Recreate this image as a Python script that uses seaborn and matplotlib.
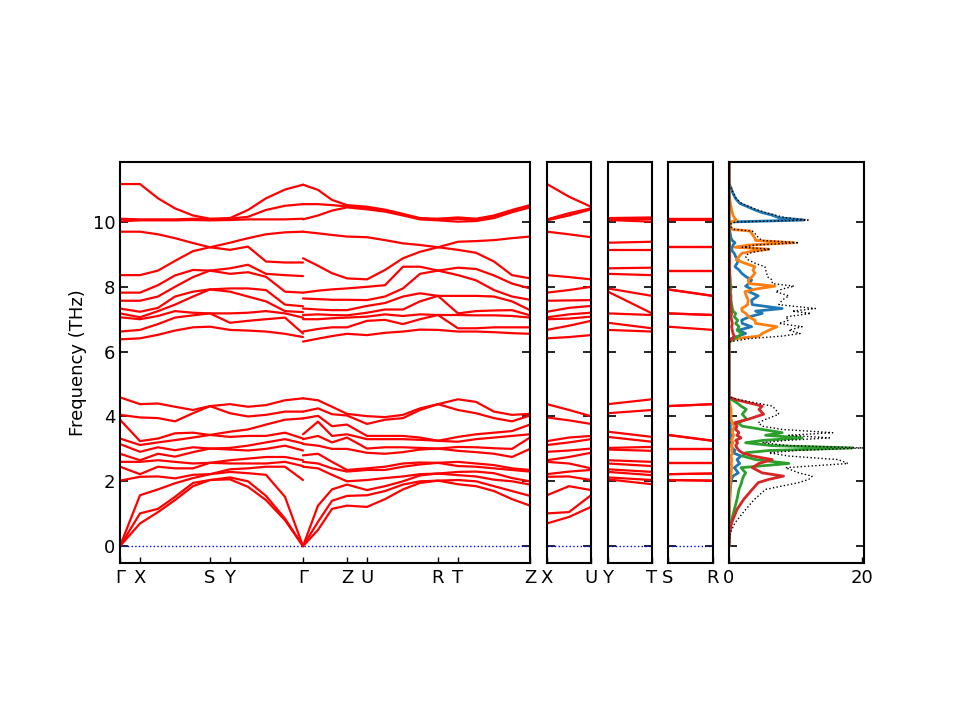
import numpy as np
import pandas as pd
import matplotlib
matplotlib.use("Agg")
import matplotlib.pyplot as plt
import seaborn as sns

# ---------------- band data: frequencies (THz) read at sample columns ----------------
# each column: 12 upper-group values followed by 12 lower-group values
col_G0 = [11.17, 10.10, 10.02, 9.70, 8.36, 7.82, 7.57, 7.33, 7.18, 7.06, 6.62, 6.38,
          4.59, 4.05, 3.90, 3.32, 3.15, 2.85, 2.60, 2.45, 2.02, 0.0, 0.0, 0.0]
col_X = [11.17, 10.08, 10.05, 9.70, 8.36, 7.82, 7.57, 7.23, 7.06, 7.00, 6.67, 6.41,
         4.38, 3.97, 3.24, 3.12, 2.91, 2.65, 2.60, 2.22, 2.14, 1.57, 1.01, 0.70]
col_XS1 = [10.73, 10.08, 10.05, 9.62, 8.50, 8.05, 7.70, 7.35, 7.25, 7.10, 6.85, 6.52,
           4.40, 3.95, 3.32, 3.20, 3.05, 2.85, 2.65, 2.45, 2.15, 1.75, 1.15, 1.05]
col_XS2 = [10.42, 10.08, 10.05, 9.50, 8.80, 8.35, 8.00, 7.70, 7.45, 7.25, 7.05, 6.65,
           4.30, 3.85, 3.48, 3.27, 2.96, 2.76, 2.60, 2.40, 2.09, 1.94, 1.52, 1.42]
col_XS3 = [10.20, 10.10, 10.06, 9.35, 9.10, 8.52, 8.30, 7.85, 7.70, 7.20, 7.12, 6.75,
           4.20, 4.10, 3.50, 3.35, 3.05, 2.90, 2.55, 2.40, 2.20, 2.10, 1.95, 1.85]
col_S = [10.10, 10.08, 10.05, 9.22, 9.22, 8.50, 8.50, 7.92, 7.92, 7.18, 7.18, 6.77,
         4.32, 4.32, 3.43, 3.43, 3.01, 3.01, 2.57, 2.57, 2.22, 2.22, 2.04, 2.04]
col_Y = [10.12, 10.10, 10.06, 9.36, 9.14, 8.57, 8.40, 7.95, 7.85, 7.18, 6.89, 6.67,
         4.38, 4.10, 3.53, 3.37, 3.03, 2.98, 2.65, 2.55, 2.37, 2.29, 2.12, 2.06]
col_YG1 = [10.37, 10.16, 10.08, 9.50, 9.24, 8.68, 8.45, 7.95, 7.70, 7.20, 6.95, 6.65,
           4.30, 4.00, 3.60, 3.40, 3.10, 2.95, 2.70, 2.55, 2.40, 2.25, 2.00, 1.83]
col_YG2 = [10.73, 10.37, 10.08, 9.62, 8.78, 8.40, 8.31, 7.90, 7.55, 7.25, 7.00, 6.62,
           4.35, 4.05, 3.75, 3.40, 3.20, 3.00, 2.75, 2.55, 2.45, 2.20, 1.55, 1.42]
col_YG3 = [11.00, 10.50, 10.08, 9.68, 8.75, 8.36, 7.85, 7.45, 7.25, 7.18, 7.05, 6.55,
           4.50, 4.15, 3.90, 3.50, 3.30, 3.10, 2.75, 2.60, 2.45, 1.52, 0.85, 0.80]
col_GL = [11.15, 10.55, 10.10, 9.70, 8.75, 8.33, 7.82, 7.40, 7.22, 7.05, 6.56, 6.45,
          4.56, 4.15, 3.94, 3.32, 3.17, 2.95, 2.65, 2.47, 2.04, 0.0, 0.0, 0.0]
col_GR = [11.15, 10.55, 10.08, 9.70, 8.88, 7.82, 7.64, 7.33, 7.13, 7.00, 6.62, 6.31,
          4.56, 4.15, 3.94, 3.45, 3.30, 3.15, 2.80, 2.60, 2.45, 0.0, 0.0, 0.0]
col_GZ1 = [10.99, 10.55, 10.20, 9.65, 8.65, 7.88, 7.62, 7.30, 7.15, 7.00, 6.70, 6.40,
           4.50, 4.25, 4.02, 3.84, 3.40, 3.10, 2.85, 2.55, 2.40, 1.25, 0.75, 0.50]
col_GZ2 = [10.68, 10.52, 10.35, 9.60, 8.42, 7.92, 7.60, 7.28, 7.13, 7.03, 6.75, 6.48,
           4.30, 4.07, 3.70, 3.40, 3.20, 3.00, 2.60, 2.40, 2.20, 1.75, 1.40, 1.15]
col_Z = [10.52, 10.48, 10.45, 9.55, 8.26, 7.95, 7.60, 7.28, 7.12, 7.05, 6.75, 6.55,
         4.08, 4.03, 3.75, 3.45, 3.35, 3.00, 2.35, 2.30, 2.00, 1.90, 1.55, 1.25]
col_U = [10.47, 10.42, 10.39, 9.53, 8.23, 8.00, 7.59, 7.41, 7.20, 7.08, 6.95, 6.51,
         4.01, 3.77, 3.40, 3.30, 3.01, 2.88, 2.40, 2.35, 2.04, 1.73, 1.57, 1.21]
col_UR1 = [10.38, 10.35, 10.32, 9.44, 8.52, 8.05, 7.70, 7.50, 7.30, 7.15, 6.98, 6.58,
           3.98, 3.90, 3.40, 3.30, 3.05, 2.85, 2.45, 2.35, 2.10, 1.85, 1.70, 1.45]
col_UR2 = [10.25, 10.22, 10.20, 9.34, 8.88, 8.62, 7.95, 7.70, 7.30, 7.10, 6.85, 6.62,
           4.05, 3.95, 3.40, 3.30, 3.05, 2.90, 2.55, 2.45, 2.15, 2.00, 1.90, 1.75]
col_UR3 = [10.12, 10.10, 10.08, 9.29, 9.08, 8.62, 8.40, 7.80, 7.55, 7.15, 7.00, 6.68,
           4.25, 4.20, 3.35, 3.28, 3.03, 2.98, 2.58, 2.52, 2.22, 2.18, 2.00, 1.95]
col_R = [10.10, 10.08, 10.05, 9.22, 9.22, 8.50, 8.50, 7.72, 7.72, 7.13, 7.13, 6.67,
         4.38, 4.38, 3.25, 3.25, 3.01, 3.01, 2.57, 2.57, 2.24, 2.24, 2.02, 2.02]
col_T = [10.14, 10.10, 10.01, 9.39, 9.14, 8.59, 8.36, 7.72, 7.18, 7.13, 6.72, 6.62,
         4.53, 4.20, 3.37, 3.22, 3.06, 2.94, 2.60, 2.47, 2.29, 2.19, 2.04, 1.91]
col_TZ1 = [10.10, 10.06, 10.03, 9.41, 9.05, 8.55, 8.20, 7.72, 7.25, 7.12, 6.72, 6.62,
           4.45, 4.10, 3.45, 3.30, 3.05, 2.90, 2.55, 2.45, 2.30, 2.15, 2.00, 1.85]
col_TZ2 = [10.20, 10.17, 10.12, 9.44, 8.78, 8.35, 7.90, 7.70, 7.27, 7.12, 6.75, 6.60,
           4.15, 3.95, 3.50, 3.35, 3.02, 2.85, 2.50, 2.40, 2.25, 2.05, 1.85, 1.70]
col_TZ3 = [10.37, 10.34, 10.30, 9.50, 8.36, 8.10, 7.70, 7.55, 7.28, 7.10, 6.75, 6.57,
           4.05, 3.85, 3.55, 3.40, 3.00, 2.75, 2.40, 2.35, 2.10, 2.00, 1.70, 1.45]
col_XU_mid = [10.78, 10.27, 10.20, 9.62, 8.30, 7.90, 7.58, 7.35, 7.15, 7.02, 6.80, 6.45,
              4.20, 3.88, 3.35, 3.20, 2.95, 2.75, 2.55, 2.30, 2.15, 1.85, 1.05, 0.90]

# path distances of the sample columns
k_left = [0.00, 0.20, 0.38, 0.55, 0.73, 0.90, 1.10, 1.28, 1.46, 1.65, 1.83]
k_right = [1.83, 1.98, 2.12, 2.27, 2.47, 2.65, 2.83, 3.00, 3.18, 3.38, 3.56, 3.74, 3.92, 4.10]
k_xu = [0.00, 0.22, 0.44]
k_yt = [0.00, 0.44]
k_sr = [0.00, 0.45]

main_ticks = [0.00, 0.20, 0.90, 1.10, 1.83, 2.27, 2.47, 3.18, 3.38, 4.10]
main_labels = ["Γ", "X", "S", "Y", "Γ", "Z", "U", "R", "T", "Z"]

# ---------------- DOS data ----------------
dos_freq = [0.0, 0.41, 0.72, 1.13, 1.44, 1.75, 1.96, 2.06, 2.16, 2.26, 2.42, 2.55, 2.67, 2.78, 2.88,
            2.95, 3.03, 3.10, 3.19, 3.26, 3.34, 3.42, 3.50, 3.60, 3.70, 3.81, 3.91, 4.07, 4.22, 4.32,
            4.42, 4.52, 4.60,
            6.30, 6.40, 6.48, 6.56, 6.66, 6.77, 6.87, 6.97, 7.07, 7.18, 7.25, 7.33, 7.45, 7.59, 7.72,
            7.85, 7.93, 8.02, 8.10, 8.21, 8.32, 8.42, 8.52, 8.62, 8.72, 8.83, 8.93, 9.03, 9.10, 9.16,
            9.22, 9.29, 9.36, 9.43, 9.50, 9.62, 9.72, 9.77, 9.85, 9.95, 10.00, 10.06, 10.13, 10.21,
            10.29, 10.37, 10.47, 10.57, 10.72, 10.88, 11.00, 11.14, 11.25, 11.85]
dos_blue = [0, 0, 0, 0.05, 0.1, 0.2, 0.3, 0.4, 0.6, 1.4, 0.8, 1.6, 1.2, 1.8, 0.6,
            0.9, 0.5, 0.3, 0.3, 0.4, 0.3, 0.3, 0.2, 0.2, 0.2, 0.15, 0.1, 0.1, 0.1, 0.05,
            0.05, 0, 0,
            0, 0.3, 1.4, 2.5, 1.4, 3.4, 2.0, 1.9, 3.0, 5.0, 4.0, 8.0, 3.5, 3.4, 4.4,
            3.0, 3.4, 2.5, 3.0, 3.4, 2.5, 1.9, 1.5, 0.9, 1.2, 1.4, 1.0, 0.8, 0.5, 0.4,
            0.5, 0.6, 0.9, 0.5, 0.3, 0.2, 0.1, 0, 0, 0, 0.2, 11.3, 7.5, 6.5,
            5.0, 3.9, 2.8, 1.65, 1.0, 0.6, 0.4, 0.1, 0, 0]
dos_orange = [0, 0, 0, 0.05, 0.1, 0.15, 0.2, 0.25, 0.3, 0.3, 0.4, 0.35, 0.4, 0.3, 0.5,
              0.4, 0.5, 0.3, 0.6, 0.4, 0.5, 0.7, 0.5, 0.6, 0.8, 0.5, 0.3, 0.3, 0.3, 0.2,
              0.1, 0.05, 0,
              0, 1.0, 4.5, 5.0, 6.0, 7.2, 4.0, 3.9, 3.0, 2.5, 2.0, 1.9, 2.8, 2.9, 2.6,
              2.4, 4.0, 6.9, 3.0, 2.9, 3.5, 3.9, 3.6, 3.9, 2.5, 1.1, 1.5, 1.9, 3.5, 6.0,
              0.9, 3.0, 9.8, 4.0, 3.9, 3.5, 3.2, 0.5, 0.2, 0.2, 0.4, 1.1, 0.8, 0.6,
              0.5, 0.4, 0.3, 0.2, 0.1, 0.05, 0, 0, 0, 0]
dos_green = [0, 0.05, 0.3, 0.8, 1.2, 1.5, 1.9, 2.0, 2.2, 2.5, 1.8, 9.0, 4.0, 2.0, 2.5,
             6.0, 18.6, 6.5, 2.5, 5.0, 11.0, 5.5, 8.0, 5.0, 2.0, 1.3, 2.7, 2.0, 2.6, 1.8,
             1.2, 0.4, 0,
             0, 0.8, 1.5, 1.9, 1.2, 1.5, 1.0, 1.3, 0.8, 1.0, 0.6, 0.5, 0.4, 0.3, 0.3,
             0.2, 0.3, 0.3, 0.2, 0.2, 0.15, 0.1, 0.1, 0.1, 0.1, 0.1, 0.1, 0.1, 0.1, 0.1,
             0.1, 0.1, 0.1, 0.1, 0.05, 0.05, 0.05, 0, 0, 0, 0, 0, 0, 0,
             0, 0, 0, 0, 0, 0, 0, 0, 0, 0]
dos_red = [0, 0.1, 0.4, 1.2, 2.2, 3.5, 4.4, 6.0, 8.2, 5.0, 3.5, 4.5, 6.5, 3.5, 2.0,
           1.5, 1.2, 1.0, 1.3, 1.0, 1.8, 1.2, 1.5, 1.0, 1.2, 0.9, 2.8, 5.2, 4.5, 5.0,
           3.0, 1.0, 0,
           0, 0.5, 0.8, 0.6, 0.5, 0.4, 0.5, 0.4, 0.3, 0.4, 0.3, 0.3, 0.2, 0.2, 0.15,
           0.1, 0.1, 0.1, 0.1, 0.1, 0.1, 0.1, 0.1, 0.1, 0.1, 0.1, 0.1, 0.1, 0.05, 0.05,
           0.05, 0, 0, 0, 0, 0, 0, 0, 0, 0, 0, 0, 0, 0,
           0, 0, 0, 0, 0, 0, 0, 0, 0, 0]
dos_total = [0, 0.2, 0.9, 2.5, 3.8, 5.5, 10.5, 12.0, 12.5, 10.5, 8.5, 17.9, 16.4, 9.0, 6.0,
             10.0, 20.2, 9.0, 5.0, 8.5, 15.1, 9.0, 15.6, 8.0, 5.0, 4.4, 5.5, 7.5, 7.0, 6.5,
             4.0, 1.5, 0,
             0, 3.0, 8.0, 10.7, 9.0, 11.0, 7.5, 9.0, 8.5, 12.3, 9.5, 13.0, 7.5, 8.0, 9.0,
             7.0, 8.0, 9.8, 6.5, 6.5, 5.7, 5.7, 5.5, 5.4, 4.0, 2.9, 2.5, 2.9, 4.5, 6.2,
             2.0, 4.0, 10.5, 5.0, 4.5, 4.0, 3.5, 0.8, 0.3, 0.3, 1.0, 11.9, 8.5, 7.0,
             5.5, 4.3, 3.1, 1.9, 1.1, 0.7, 0.4, 0.1, 0, 0]

# ---------------- build band tables ----------------
def band_frame(k_list, cols, tag):
    rows = []
    for k, c in zip(k_list, cols):
        vals = np.sort(np.asarray(c, dtype=float))
        for i, v in enumerate(vals):
            rows.append({"k": k, "freq": v, "band": f"{tag}_{i}"})
    return pd.DataFrame(rows)

df_left = band_frame(k_left, [col_G0, col_X, col_XS1, col_XS2, col_XS3, col_S, col_Y,
                              col_YG1, col_YG2, col_YG3, col_GL], "L")
df_right = band_frame(k_right, [col_GR, col_GZ1, col_GZ2, col_Z, col_U, col_UR1, col_UR2,
                                col_UR3, col_R, col_T, col_TZ1, col_TZ2, col_TZ3, col_Z], "R")
df_main = pd.concat([df_left, df_right], ignore_index=True)
df_xu = band_frame(k_xu, [col_X, col_XU_mid, col_U], "XU")
df_yt = band_frame(k_yt, [col_Y, col_T], "YT")
df_sr = band_frame(k_sr, [col_S, col_R], "SR")

# ---------------- style ----------------
sns.set_style("ticks")
plt.rcParams["font.family"] = ["DejaVu Sans"]
plt.rcParams["axes.linewidth"] = 1.5
for key in ["text.color", "axes.labelcolor", "xtick.color", "ytick.color", "axes.edgecolor"]:
    plt.rcParams[key] = "black"

fig = plt.figure(figsize=(9.6, 7.2), dpi=100)
B = 157 / 720
H = 401 / 720
ax_main = fig.add_axes([120 / 960, B, 410 / 960, H])
ax_xu = fig.add_axes([547 / 960, B, 44 / 960, H])
ax_yt = fig.add_axes([608 / 960, B, 44 / 960, H])
ax_sr = fig.add_axes([668 / 960, B, 45 / 960, H])
ax_dos = fig.add_axes([729 / 960, B, 135 / 960, H])

ylim = (-0.52, 11.85)
yt = [0, 2, 4, 6, 8, 10]

for ax, df, xl, ticks, labels in [
    (ax_main, df_main, (0, 4.10), main_ticks, main_labels),
    (ax_xu, df_xu, (0, 0.44), [0, 0.44], ["X", "U"]),
    (ax_yt, df_yt, (0, 0.44), [0, 0.44], ["Y", "T"]),
    (ax_sr, df_sr, (0, 0.45), [0, 0.45], ["S", "R"]),
]:
    ax.axhline(0, color="blue", linestyle=":", linewidth=1.0, zorder=1)
    sns.lineplot(data=df, x="k", y="freq", units="band", estimator=None, sort=False,
                 color="red", linewidth=1.6, legend=False, ax=ax, zorder=2)
    ax.set_xlim(*xl)
    ax.set_ylim(*ylim)
    ax.set_xticks(ticks)
    ax.set_xticklabels(labels, fontsize=13)
    ax.set_yticks(yt)
    ax.set_xlabel("")
    ax.set_ylabel("")

for ax in [ax_xu, ax_yt, ax_sr, ax_dos]:
    ax.set_yticklabels([])

ax_main.set_yticklabels([str(v) for v in yt], fontsize=13)
ax_main.set_ylabel("Frequency (THz)", fontsize=13)

# DOS panel
dos_colors = ["#1f77b4", "#ff7f0e", "#2ca02c", "#d62728"]
for vals, c in zip([dos_blue, dos_orange, dos_green, dos_red], dos_colors):
    sns.lineplot(x=vals, y=dos_freq, sort=False, estimator=None, color=c,
                 linewidth=2.0, ax=ax_dos)
sns.lineplot(x=dos_total, y=dos_freq, sort=False, estimator=None, color="black",
             linewidth=1.0, linestyle=":", ax=ax_dos)
ax_dos.set_xlim(0, 20.3)
ax_dos.set_ylim(*ylim)
ax_dos.set_xticks([0, 20])
ax_dos.set_xticklabels(["0", "20"], fontsize=13)
ax_dos.set_yticks(yt)
ax_dos.set_yticklabels([])
ax_dos.set_xlabel("")
ax_dos.set_ylabel("")

for ax in [ax_main, ax_xu, ax_yt, ax_sr, ax_dos]:
    for s in ax.spines.values():
        s.set_visible(True)
        s.set_linewidth(1.5)
        s.set_color("black")
    ax.tick_params(axis="y", direction="in", left=True, right=True, length=6, width=1.2,
                   colors="black")
    ax.tick_params(axis="x", direction="in", bottom=True, top=False, length=4, width=1.0,
                   pad=4, colors="black")

fig.savefig("out.png", dpi=100)
